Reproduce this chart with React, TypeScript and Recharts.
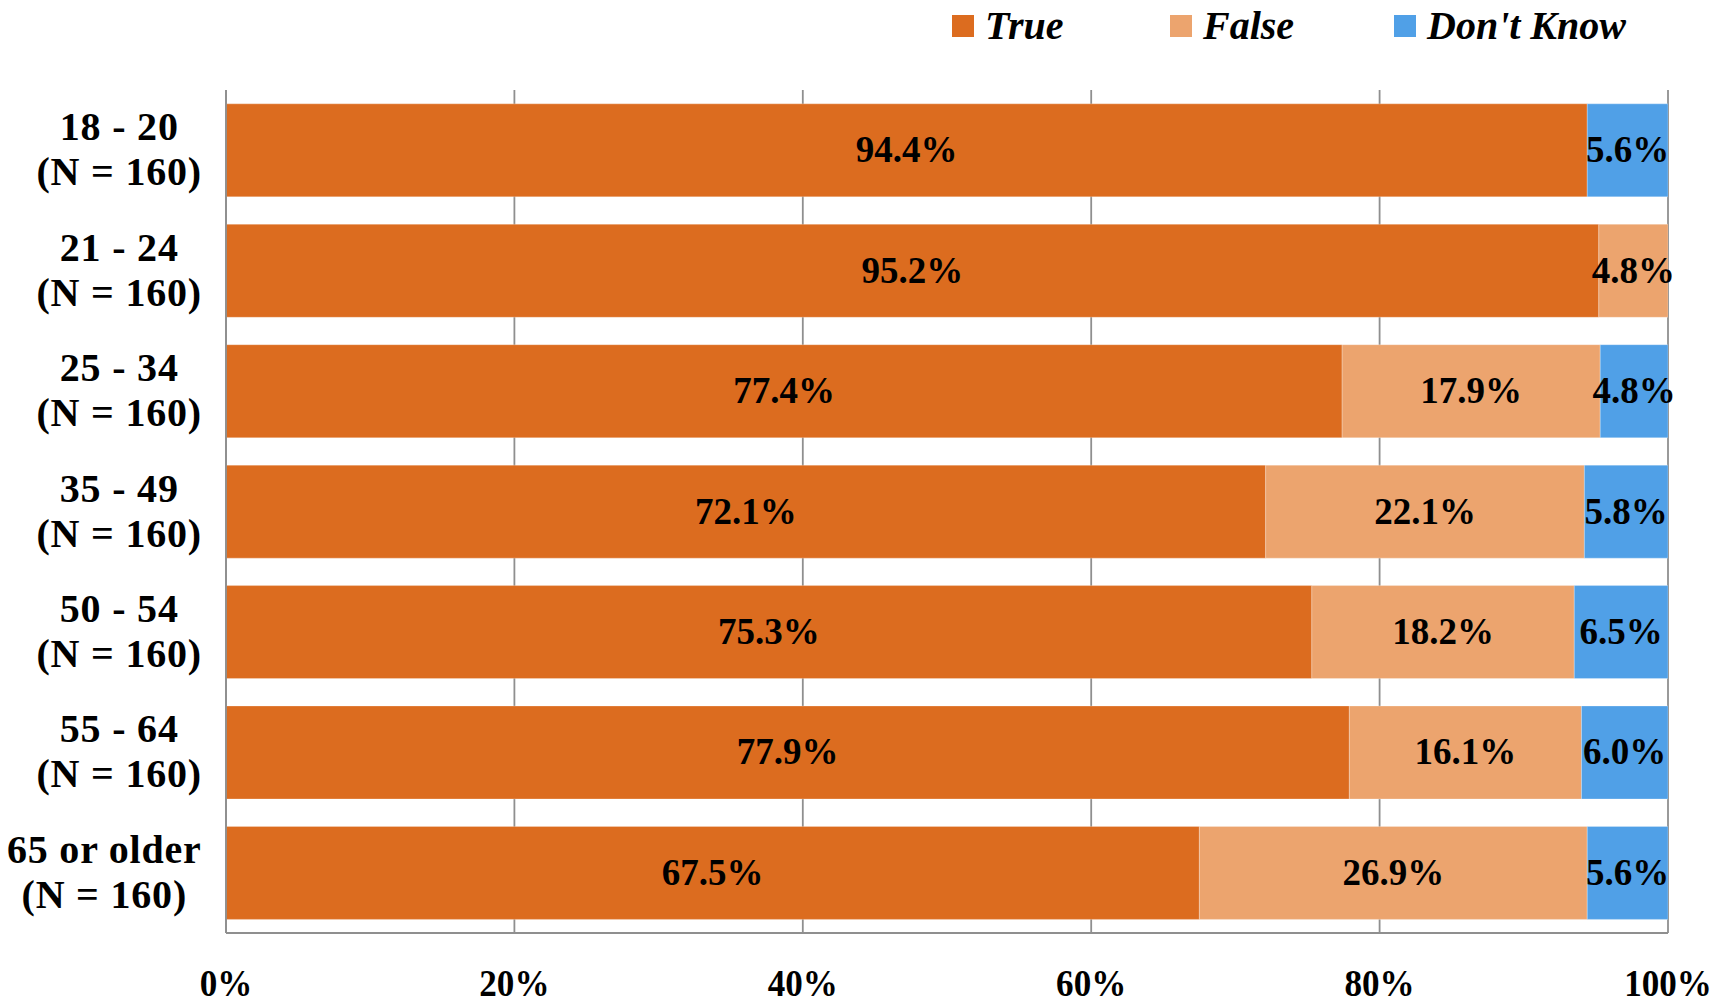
import React from 'react';
import { BarChart, Bar, XAxis, YAxis, CartesianGrid, LabelList, Legend } from 'recharts';

const categories = ['18 - 20', '21 - 24', '25 - 34', '35 - 49', '50 - 54', '55 - 64', '65 or older'];
const sampleSizes = ['(N = 160)', '(N = 160)', '(N = 160)', '(N = 160)', '(N = 160)', '(N = 160)', '(N = 160)'];
const trueValues = [94.4, 95.2, 77.4, 72.1, 75.3, 77.9, 67.5];
const falseValues = [0, 4.8, 17.9, 22.1, 18.2, 16.1, 26.9];
const dontKnowValues = [5.6, 0, 4.8, 5.8, 6.5, 6.0, 5.6];
const xTicks = [0, 20, 40, 60, 80, 100];
const seriesKeys = ['t', 'f', 'dk'];
const seriesNames = ['True', 'False', "Don't Know"];
const seriesColors = ['#DC6C1F', '#ECA46E', '#50A0E7'];

const data = categories.map((c, i) => ({
  cat: c,
  t: trueValues[i],
  f: falseValues[i],
  dk: dontKnowValues[i],
}));

const FONT = "'Liberation Serif', 'Times New Roman', serif";

let ctx: CanvasRenderingContext2D | null = null;
const measure = (s: string, font: string, spacing: number) => {
  if (!ctx) {
    const c = document.createElement('canvas');
    ctx = c.getContext('2d');
  }
  if (!ctx) return s.length * 18;
  ctx.font = font;
  return ctx.measureText(s).width + spacing * s.length;
};

const Y_FS = 40;
const Y_LS = 0.8;

const YTick = (props: any) => {
  const { x, y, payload } = props;
  const idx = categories.indexOf(payload.value);
  const lines = [payload.value, sampleSizes[idx]];
  const font = `bold ${Y_FS}px ${FONT}`;
  const w = Math.max(...lines.map((l) => measure(l, font, Y_LS)));
  const cx = x - w / 2;
  return (
    <text textAnchor="middle" fontFamily={FONT} fontWeight="bold" fontSize={Y_FS} letterSpacing={Y_LS} fill="#000">
      <tspan x={cx} y={y - 10}>{lines[0]}</tspan>
      <tspan x={cx} y={y + 35}>{lines[1]}</tspan>
    </text>
  );
};

const XTick = (props: any) => {
  const { x, y, payload } = props;
  return (
    <g transform={`translate(${x},${y}) scale(0.9,1)`}>
      <text x={0} y={0} textAnchor="middle" fontFamily={FONT} fontWeight="bold" fontSize={39} fill="#000">
        {`${payload.value}%`}
      </text>
    </g>
  );
};

const renderLabel = (props: any) => {
  const { x, y, width, height, value } = props;
  if (!value) return null;
  return (
    <text
      x={x + width / 2}
      y={y + height / 2 + 12}
      textAnchor="middle"
      fontFamily={FONT}
      fontWeight="bold"
      fontSize={37}
      fill="#000"
    >
      {`${Number(value).toFixed(1)}%`}
    </text>
  );
};

const legendPos = [952, 1170, 1394];

const LegendContent = () => (
  <div style={{ position: 'relative', height: 50, width: 1731 }}>
    {seriesNames.map((n, i) => (
      <div
        key={n}
        style={{
          position: 'absolute',
          left: legendPos[i],
          top: 6,
          display: 'flex',
          alignItems: 'center',
          fontFamily: FONT,
          fontWeight: 'bold',
          fontStyle: 'italic',
          fontSize: 40,
          lineHeight: '40px',
          color: '#000',
          whiteSpace: 'nowrap',
        }}
      >
        <span style={{ display: 'inline-block', width: 22, height: 22, background: seriesColors[i], marginRight: 11 }} />
        <span>{n}</span>
      </div>
    ))}
  </div>
);

export default function App() {
  return (
    <div style={{ position: 'absolute', left: 0, top: 0, width: 1731, height: 1006, background: '#fff' }}>
      <BarChart
        width={1731}
        height={1006}
        layout="vertical"
        data={data}
        margin={{ top: 40, right: 63, bottom: 0, left: 0 }}
        barCategoryGap="11.5%"
      >
        <CartesianGrid horizontal={false} stroke="#8f8f8f" strokeWidth={1.8} />
        <XAxis
          type="number"
          domain={[0, 100]}
          ticks={xTicks}
          allowDataOverflow
          height={73}
          tickSize={0}
          tickMargin={63}
          tickLine={false}
          axisLine={{ stroke: '#8f8f8f', strokeWidth: 1.8 }}
          tick={<XTick />}
          interval={0}
        />
        <XAxis
          xAxisId="top"
          orientation="top"
          type="number"
          domain={[0, 100]}
          height={0}
          tick={false}
          tickLine={false}
          axisLine={{ stroke: '#8f8f8f', strokeWidth: 1.8 }}
        />
        <YAxis
          type="category"
          dataKey="cat"
          width={226}
          tickSize={0}
          tickMargin={24}
          tickLine={false}
          axisLine={{ stroke: '#8f8f8f', strokeWidth: 1.8 }}
          tick={<YTick />}
          interval={0}
        />
        <Legend
          verticalAlign="top"
          align="center"
          content={<LegendContent />}
          wrapperStyle={{ top: 0, left: 0, width: 1731, height: 50 }}
        />
        {seriesKeys.map((k, i) => (
          <Bar
            key={k}
            dataKey={k}
            name={seriesNames[i]}
            stackId="a"
            fill={seriesColors[i]}
            stroke="#ffffff"
            strokeOpacity={0.25}
            strokeWidth={1}
            isAnimationActive={false}
          >
            <LabelList dataKey={k} content={renderLabel} />
          </Bar>
        ))}
      </BarChart>
    </div>
  );
}
